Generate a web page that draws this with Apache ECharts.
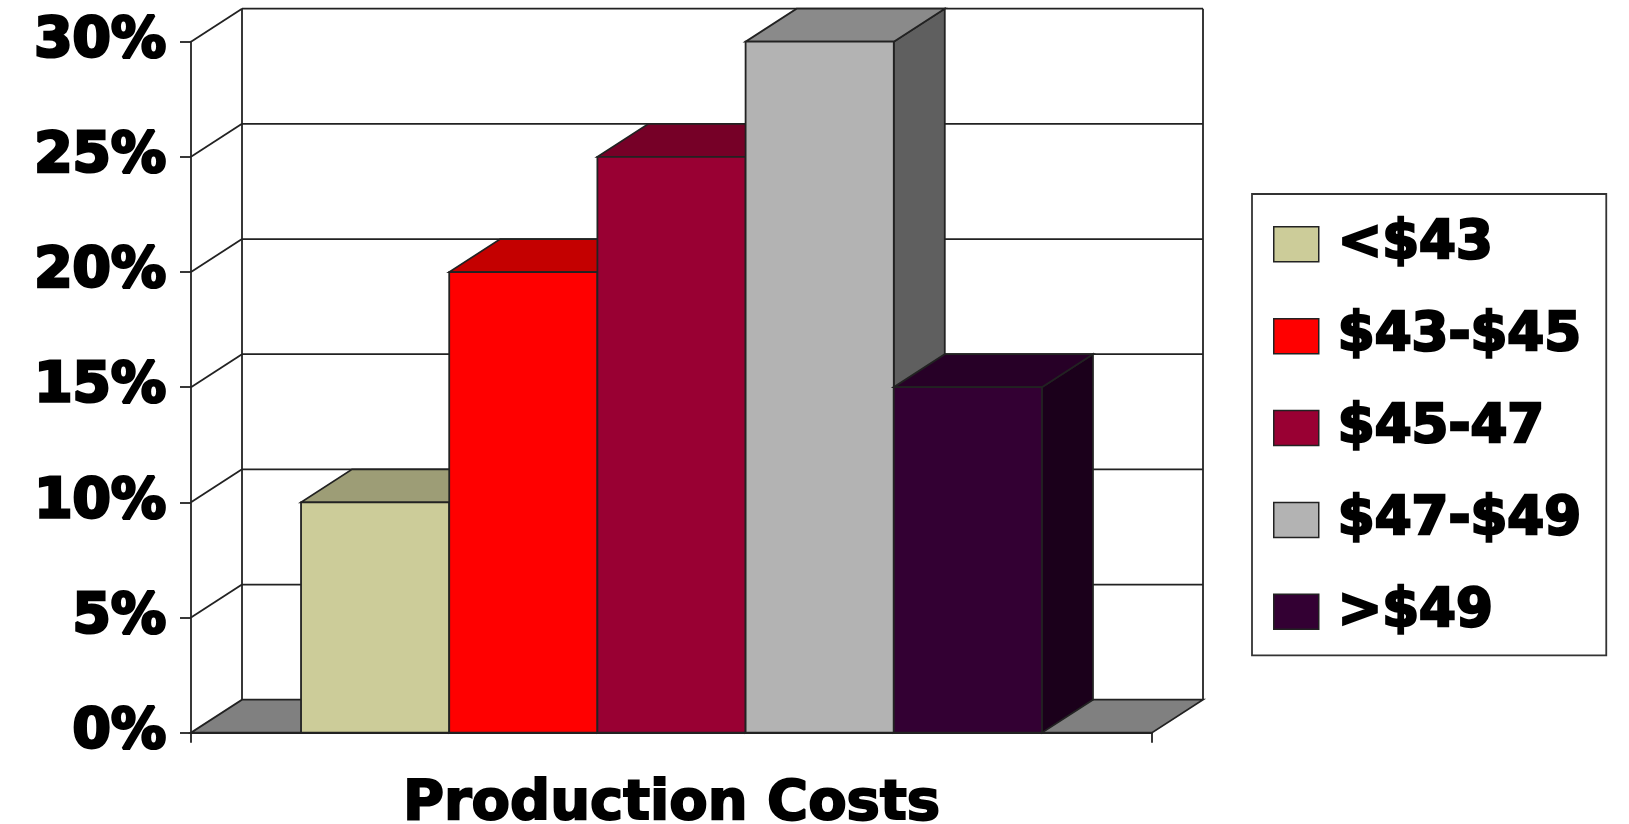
<!DOCTYPE html>
<html>
<head>
<meta charset="utf-8">
<script src="https://cdn.jsdelivr.net/npm/echarts@6/dist/echarts.min.js"></script>
<style>
  html, body { margin: 0; padding: 0; background: #ffffff; }
  #chart { width: 1629px; height: 824px; }
</style>
</head>
<body>
<div id="chart"></div>
<script>
// Share of output by production-cost band
const categories = ['Production Costs'];
const seriesNames = ['<$43', '$43-$45', '$45-47', '$47-$49', '>$49'];
const seriesValues = [10, 20, 25, 30, 15];
const yTicks = [0, 5, 10, 15, 20, 25, 30];

// Styling of the pseudo-3D columns
const faceColors = ['#CCCC99', '#FF0000', '#990033', '#B3B3B3', '#330033'];
const DEPTH_X = 51;      // horizontal shift of the back plane
const DEPTH_Y = -33;     // vertical shift of the back plane
const GROUP_FRACTION = 0.771;
const EDGE = '#222222';
const LINE_W = 1.8;
const FONT = "'DejaVu Sans', 'Liberation Sans', sans-serif";

function shade(hex, f) {
  const n = parseInt(hex.slice(1), 16);
  const r = Math.round(((n >> 16) & 255) * f);
  const g = Math.round(((n >> 8) & 255) * f);
  const b = Math.round((n & 255) * f);
  return 'rgb(' + r + ',' + g + ',' + b + ')';
}

// Back wall, side wall and floor, one tick value per data item
function renderWall(params, api) {
  const v = api.value(1);
  const p = api.coord([0, v]);
  const bw = api.size([1, 0])[0];
  const x0 = p[0] - bw / 2;
  const x1 = p[0] + bw / 2;
  const y = p[1];
  const yFloor = api.coord([0, 0])[1];
  const children = [];
  const lineStyle = { stroke: EDGE, lineWidth: LINE_W, fill: null };
  if (v === 0) {
    children.push({
      type: 'polygon',
      shape: { points: [[x0, y], [x1, y], [x1 + DEPTH_X, y + DEPTH_Y], [x0 + DEPTH_X, y + DEPTH_Y]] },
      style: { fill: '#808080', stroke: EDGE, lineWidth: LINE_W }
    });
  } else {
    children.push({
      type: 'line',
      shape: { x1: x0 + DEPTH_X, y1: y + DEPTH_Y, x2: x1 + DEPTH_X, y2: y + DEPTH_Y },
      style: lineStyle
    });
    children.push({
      type: 'line',
      shape: { x1: x0, y1: y, x2: x0 + DEPTH_X, y2: y + DEPTH_Y },
      style: lineStyle
    });
  }
  if (v === yTicks[yTicks.length - 1]) {
    children.push({
      type: 'line',
      shape: { x1: x0 + DEPTH_X, y1: y + DEPTH_Y, x2: x0 + DEPTH_X, y2: yFloor + DEPTH_Y },
      style: lineStyle
    });
    children.push({
      type: 'line',
      shape: { x1: x1 + DEPTH_X, y1: y + DEPTH_Y, x2: x1 + DEPTH_X, y2: yFloor + DEPTH_Y },
      style: lineStyle
    });
  }
  return { type: 'group', children: children };
}

// One shaded column (front, top and right side) for series k
function makeColumnRenderer(k) {
  return function (params, api) {
    const v = api.value(1);
    const p = api.coord([api.value(0), v]);
    const base = api.coord([api.value(0), 0]);
    const bw = api.size([1, 0])[0];
    const groupW = bw * GROUP_FRACTION;
    const barW = groupW / seriesNames.length;
    const xl = p[0] - groupW / 2 + k * barW;
    const xr = xl + barW;
    const yt = p[1];
    const yb = base[1];
    const c = faceColors[k];
    const edge = { stroke: EDGE, lineWidth: LINE_W };
    return {
      type: 'group',
      children: [
        {
          type: 'polygon',
          shape: { points: [[xr, yt], [xr + DEPTH_X, yt + DEPTH_Y], [xr + DEPTH_X, yb + DEPTH_Y], [xr, yb]] },
          style: Object.assign({ fill: shade(c, 0.53) }, edge)
        },
        {
          type: 'polygon',
          shape: { points: [[xl, yt], [xr, yt], [xr + DEPTH_X, yt + DEPTH_Y], [xl + DEPTH_X, yt + DEPTH_Y]] },
          style: Object.assign({ fill: shade(c, 0.77) }, edge)
        },
        {
          type: 'rect',
          shape: { x: xl, y: yt, width: barW, height: yb - yt },
          style: Object.assign({ fill: c }, edge)
        }
      ]
    };
  };
}

const chart = echarts.init(document.getElementById('chart'), null, { renderer: 'canvas' });

const series = [{
  name: 'wall',
  type: 'custom',
  renderItem: renderWall,
  data: yTicks.map(t => [0, t]),
  encode: { x: 0, y: 1 },
  silent: true,
  z: 1
}];
seriesNames.forEach((name, k) => {
  series.push({
    name: name,
    type: 'custom',
    renderItem: makeColumnRenderer(k),
    data: [[0, seriesValues[k]]],
    encode: { x: 0, y: 1 },
    itemStyle: { color: faceColors[k], borderColor: EDGE, borderWidth: 1.5 },
    z: 2 + k
  });
});

chart.setOption({
  animation: false,
  backgroundColor: '#ffffff',
  grid: {
    left: 191, right: 477, top: 41.7, bottom: 91.3,
    containLabel: false,
    outerBoundsMode: 'none'
  },
  legend: {
    data: seriesNames,
    orient: 'vertical',
    left: 1252,
    top: 194,
    icon: 'rect',
    itemWidth: 45,
    itemHeight: 35,
    itemGap: 36.4,
    padding: [22.5, 24, 15.7, 21],
    backgroundColor: '#ffffff',
    borderColor: '#333333',
    borderWidth: 1.8,
    borderRadius: 0,
    selectedMode: false,
    itemStyle: { borderColor: EDGE, borderWidth: 1.5 },
    textStyle: {
      fontFamily: FONT,
      fontWeight: 'bold',
      fontSize: 53,
      color: '#000000',
      textBorderColor: '#000000',
      textBorderWidth: 2.5,
      padding: [0, 0, 0, 14]
    }
  },
  xAxis: {
    type: 'category',
    data: categories,
    z: 5,
    axisLine: { show: true, lineStyle: { color: EDGE, width: LINE_W } },
    axisTick: { show: true, length: 10, lineStyle: { color: EDGE, width: LINE_W } },
    axisLabel: { show: false },
    splitLine: { show: false },
    name: 'Production Costs',
    nameLocation: 'middle',
    nameGap: 44,
    nameTextStyle: {
      fontFamily: FONT,
      fontWeight: 'bold',
      fontSize: 56,
      color: '#000000',
      textBorderColor: '#000000',
      textBorderWidth: 2
    }
  },
  yAxis: {
    type: 'value',
    min: 0,
    max: 30,
    interval: 5,
    z: 5,
    axisLine: { show: true, lineStyle: { color: EDGE, width: LINE_W } },
    axisTick: { show: true, length: 11, lineStyle: { color: EDGE, width: LINE_W } },
    splitLine: { show: false },
    axisLabel: {
      formatter: '{value}%',
      margin: 25,
      fontFamily: FONT,
      fontWeight: 'bold',
      fontSize: 55,
      color: '#000000',
      textBorderColor: '#000000',
      textBorderWidth: 3
    }
  },
  series: series
});
</script>
</body>
</html>
